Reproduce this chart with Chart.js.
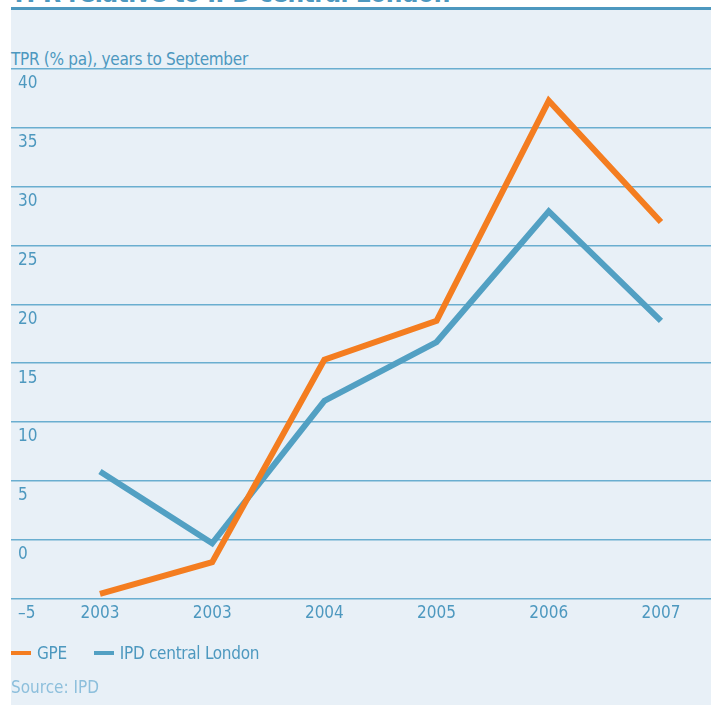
<!DOCTYPE html>
<html>
<head>
<meta charset="utf-8">
<script src="https://cdn.jsdelivr.net/npm/chart.js@4.4.1/dist/chart.umd.min.js"></script>
<style>
  body { margin: 0; background: #ffffff; font-family: "Liberation Sans Narrow", "DejaVu Sans Condensed", sans-serif; }
  #wrap { position: relative; width: 711px; height: 705px; overflow: hidden; }
  #panel { position: absolute; left: 11px; top: 8px; width: 700px; height: 697px; background: #e8f0f7; }
  #rule { position: absolute; left: 11px; top: 7px; width: 700px; height: 3px; background: #4d98bf; }
  #title { position: absolute; left: 11px; top: -20px; font-size: 26px; line-height: 26px; font-weight: bold; color: #4d98bf; white-space: nowrap; letter-spacing: -0.5px; }
  #ytitle { position: absolute; left: 11px; top: 49px; font-size: 17px; color: #4d98bf; white-space: nowrap; letter-spacing: -0.3px; }
  #chartBox { position: absolute; left: 0; top: 0; width: 711px; height: 705px; }
  #legend { position: absolute; left: 11px; top: 643px; font-size: 17px; color: #4d98bf; white-space: nowrap; letter-spacing: -0.3px; }
  .item { display: inline-block; margin-right: 27px; }
  .swatch { display: inline-block; width: 20px; height: 4px; vertical-align: middle; margin-right: 6px; position: relative; top: -1px; }
  #source { position: absolute; left: 11px; top: 677px; font-size: 17px; color: #8dbfdc; white-space: nowrap; }
</style>
</head>
<body>
<div id="wrap">
  <div id="panel"></div>
  <div id="title">TPR relative to IPD central London</div>
  <div id="rule"></div>
  <div id="ytitle">TPR (% pa), years to September</div>
  <div id="chartBox"><canvas id="grafica"></canvas></div>
  <div id="legend"></div>
  <div id="source">Source: IPD</div>
</div>
<script>
// datos
var anios = ['2003', '2003', '2004', '2005', '2006', '2007'];
var gpe = [-4.6, -1.9, 15.3, 18.6, 37.3, 27.0];
var ipd = [5.8, -0.3, 11.8, 16.8, 27.9, 18.6];
var nombres = ['GPE', 'IPD central London'];
var colores = ['#f47d20', '#52a0c3'];
var textoAzul = '#4d98bf';

function puntos(serie) {
    return serie.map(function (v, i) { return { x: i, y: v }; });
}

var ctx = document.getElementById('grafica');
var chartTPR = new Chart(ctx, {
    type: 'line',
    data: {
        datasets: [{
            label: nombres[0],
            data: puntos(gpe),
            borderColor: colores[0],
            borderWidth: 6,
            borderJoinStyle: 'miter',
            pointRadius: 0,
            tension: 0
        }, {
            label: nombres[1],
            data: puntos(ipd),
            borderColor: colores[1],
            borderWidth: 6,
            borderJoinStyle: 'miter',
            pointRadius: 0,
            tension: 0
        }]
    },
    options: {
        responsive: true,
        maintainAspectRatio: false,
        animation: false,
        layout: { padding: { left: 11, right: 0, top: 69, bottom: 76 } },
        plugins: { legend: { display: false }, tooltip: { enabled: false } },
        scales: {
            x: {
                type: 'linear',
                min: -0.793,
                max: 5.446,
                grid: { display: false, drawTicks: false },
                border: { display: false },
                afterBuildTicks: function (scale) {
                    scale.ticks = anios.map(function (a, i) { return { value: i }; });
                },
                ticks: {
                    padding: 5,
                    color: textoAzul,
                    font: { family: '"Liberation Sans Narrow", "DejaVu Sans Condensed", sans-serif', size: 17 },
                    callback: function (value) { return anios[value]; }
                }
            },
            y: {
                min: -5,
                max: 40,
                afterFit: function (scale) { scale.width = 0; },
                grid: { color: '#6aaed0', lineWidth: 1.5, drawTicks: false },
                border: { display: false },
                ticks: {
                    stepSize: 5,
                    mirror: true,
                    padding: 7,
                    labelOffset: 15,
                    color: textoAzul,
                    font: { family: '"Liberation Sans Narrow", "DejaVu Sans Condensed", sans-serif', size: 17 },
                    callback: function (value) { return value < 0 ? '\u2013' + Math.abs(value) : value; }
                }
            }
        }
    }
});

// leyenda en html
var html = '';
for (var i = 0; i < nombres.length; i++) {
    html += '<span class="item"><span class="swatch" style="background:' + colores[i] + '"></span>' + nombres[i] + '</span>';
}
document.getElementById('legend').innerHTML = html;
</script>
</body>
</html>
